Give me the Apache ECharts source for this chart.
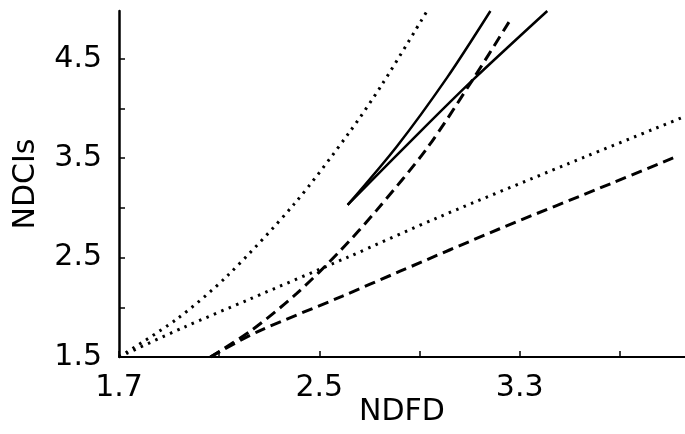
<!DOCTYPE html>
<html>
<head>
<meta charset="utf-8">
<script src="https://cdn.jsdelivr.net/npm/echarts@6/dist/echarts.min.js"></script>
<style>html,body{margin:0;padding:0;background:#fff;}#c{width:685px;height:434px;}</style>
</head>
<body>
<div id="c"></div>
<script>
// ---- data ----
const xTickValues = [1.7, 2.1, 2.5, 2.9, 3.3, 3.7];
const xLabelValues = [1.7, 2.5, 3.3];
const yTickValues = [1.5, 2.0, 2.5, 3.0, 3.5, 4.0, 4.5];
const yLabelValues = [1.5, 2.5, 3.5, 4.5];

const dottedSteep = [[1.7,1.5],[1.93,1.88],[2.13,2.31],[2.40,3.04],[2.62,3.76],[2.75,4.24],[2.93,4.98]];
const dottedShallow = [[1.7,1.5],[1.96,1.80],[2.22,2.08],[2.61,2.50],[2.98,2.91],[3.49,3.44],[3.96,3.92]];
const dashedSteep = [[2.065,1.5],[2.23,1.77],[2.41,2.14],[2.58,2.56],[2.73,2.98],[2.93,3.60],[3.11,4.28],[3.26,4.88]];
const dashedShallow = [[2.065,1.5],[2.25,1.75],[2.59,2.11],[2.82,2.36],[3.22,2.79],[3.67,3.25],[3.93,3.52]];
const solidUpper = [[2.613,3.03],[2.81,3.62],[3.01,4.31],[3.183,4.98]];
const solidLower = [[2.613,3.03],[2.90,3.76],[3.11,4.28],[3.41,4.98]];

const FONT = 'DejaVu Sans';
const chart = echarts.init(document.getElementById('c'), null, {renderer: 'canvas'});

function lineSeries(data, type, width) {
  return {
    type: 'line',
    data: data,
    showSymbol: false,
    smooth: 0.3,
    silent: true,
    lineStyle: {color: '#000', width: width, type: type, cap: 'butt'}
  };
}

chart.setOption({
  animation: false,
  backgroundColor: '#fff',
  grid: {left: 119, right: 0, top: 11, bottom: 77, containLabel: false, outerBoundsMode: 'none'},
  xAxis: {
    type: 'value',
    min: 1.7, max: 3.96,
    name: 'NDFD',
    nameLocation: 'middle',
    nameGap: 40,
    nameMoveOverlap: false,
    nameTextStyle: {fontFamily: FONT, fontSize: 30, color: '#000'},
    axisLine: {show: true, onZero: false, lineStyle: {color: '#000', width: 2}},
    axisTick: {show: true, inside: true, length: 6, customValues: xTickValues, lineStyle: {color: '#000', width: 1.5}},
    axisLabel: {show: true, customValues: xLabelValues, margin: 16, fontFamily: FONT, fontSize: 30, color: '#000',
      formatter: v => v.toFixed(1)},
    splitLine: {show: false}
  },
  yAxis: {
    type: 'value',
    min: 1.5, max: 4.98,
    name: 'NDCIs',
    nameLocation: 'middle',
    nameGap: 78,
    nameMoveOverlap: false,
    nameTextStyle: {fontFamily: FONT, fontSize: 30, color: '#000'},
    axisLine: {show: true, onZero: false, lineStyle: {color: '#000', width: 2.5}},
    axisTick: {show: true, inside: true, length: 6, customValues: yTickValues, lineStyle: {color: '#000', width: 1.5}},
    axisLabel: {show: true, customValues: yLabelValues, margin: 17, fontFamily: FONT, fontSize: 30, color: '#000',
      formatter: v => v.toFixed(1)},
    splitLine: {show: false}
  },
  series: [
    lineSeries(dottedSteep, [2.5, 5.5], 3),
    lineSeries(dottedShallow, [2.5, 5.5], 3),
    lineSeries(dashedSteep, [11, 6], 3),
    lineSeries(dashedShallow, [11, 6], 3),
    lineSeries(solidUpper, 'solid', 2.5),
    lineSeries(solidLower, 'solid', 2.5)
  ]
});
</script>
</body>
</html>
